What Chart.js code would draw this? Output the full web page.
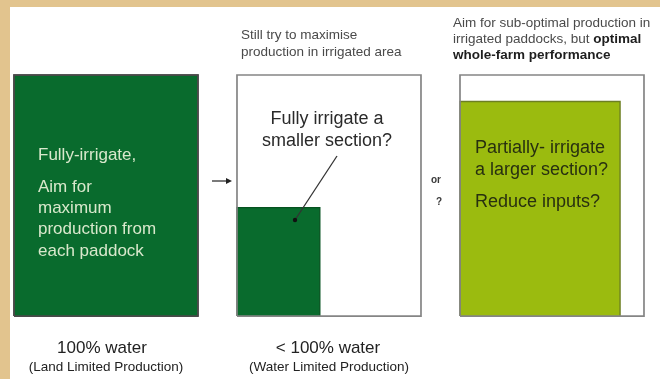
<!DOCTYPE html>
<html>
<head>
<meta charset="utf-8">
<script src="https://cdn.jsdelivr.net/npm/chart.js@4/dist/chart.umd.min.js"></script>
<style>
  html, body { margin: 0; padding: 0; background: #fff; }
  canvas { display: block; }
</style>
</head>
<body>
<canvas id="farmChart" width="660" height="379"></canvas>
<script>
// scenarios, left to right
const scenarios = ['100% water', '< 100% water', 'or ?'];
const scenarioNotes = ['(Land Limited Production)', '(Water Limited Production)', ''];
// share of the farm that is irrigated (% of area)
const irrigatedArea = [100, 45, 87];
// production per irrigated paddock (% of maximum)
const paddockProduction = [100, 45, 89];
// whole farm, for the outline
const farmArea = [100, 100, 100];
const farmProduction = [100, 100, 100];

const fillColors = ['#096b2d', '#096b2d', '#9bbb0f'];
const edgeColors = ['#4a4a4a', '#06521f', '#6d7f22'];

// layout: where each panel starts on the x scale (panel width = 100 units)
const panelStart = [0, 121.2, 242.4];

document.addEventListener("DOMContentLoaded", function(){

    function rectPoints(left, w, h, closed) {
        const pts = [
            {x: left, y: 0},
            {x: left, y: h},
            {x: left + w, y: h},
            {x: left + w, y: 0}
        ];
        if (closed) pts.push({x: left, y: 0});
        return pts;
    }

    const datasets = [];
    scenarios.forEach((name, i) => {
        datasets.push({
            label: name + ' farm',
            data: rectPoints(panelStart[i], farmArea[i], farmProduction[i], true),
            showLine: true,
            fill: false,
            borderColor: i === 0 ? '#4a4a4a' : '#858585',
            borderWidth: 1.7,
            pointRadius: 0,
            order: 0
        });
        datasets.push({
            label: name + ' irrigated',
            data: rectPoints(panelStart[i], irrigatedArea[i], paddockProduction[i], false),
            showLine: true,
            fill: 'origin',
            backgroundColor: fillColors[i],
            borderColor: edgeColors[i],
            borderWidth: 1.4,
            pointRadius: 0,
            order: 1
        });
    });

    const textPlugin = {
        id: 'diagramText',
        beforeDraw(chart) {
            const ctx = chart.ctx;
            ctx.save();
            ctx.fillStyle = '#e2c48e';
            ctx.fillRect(0, 0, chart.width, chart.height);
            ctx.fillStyle = '#ffffff';
            ctx.fillRect(10, 7, chart.width - 10, chart.height - 7);
            ctx.restore();
        },
        afterDraw(chart) {
            const ctx = chart.ctx;
            const font = (size, bold) => (bold ? 'bold ' : '') + size + 'px "Liberation Sans", Arial, sans-serif';
            ctx.save();
            ctx.textBaseline = 'middle';

            // panel 1 text
            ctx.fillStyle = '#d9e8cc';
            ctx.font = font(17);
            ctx.textAlign = 'left';
            ctx.fillText('Fully-irrigate,', 38, 155);
            ['Aim for', 'maximum', 'production from', 'each paddock'].forEach((t, k) => ctx.fillText(t, 38, 187 + k * 21.3));

            // panel 2 text
            ctx.fillStyle = '#2a2a2a';
            ctx.font = font(18);
            ctx.textAlign = 'center';
            ctx.fillText('Fully irrigate a', 327, 119);
            ctx.fillText('smaller section?', 327, 141);

            // panel 3 text
            ctx.textAlign = 'left';
            ctx.fillStyle = '#283010';
            ctx.fillText('Partially- irrigate', 475, 148);
            ctx.fillText('a larger section?', 475, 170);
            ctx.fillText('Reduce inputs?', 475, 202);

            // top notes
            ctx.fillStyle = '#4a4a4a';
            ctx.font = font(13.5);
            ctx.fillText('Still try to maximise', 241, 35);
            ctx.fillText('production in irrigated area', 241, 52);
            ctx.fillText('Aim for sub-optimal production in', 453, 23);
            const part = 'irrigated paddocks, but ';
            ctx.fillText(part, 453, 39);
            const pw = ctx.measureText(part).width;
            ctx.fillStyle = '#1e1e1e';
            ctx.font = font(13.5, true);
            ctx.fillText('optimal', 453 + pw, 39);
            ctx.fillText('whole-farm performance', 453, 55);

            // "or ?"
            ctx.font = font(10, true);
            ctx.fillStyle = '#3a3a3a';
            ctx.textAlign = 'center';
            ctx.fillText('or', 436, 180);
            ctx.fillText('?', 439, 202);

            // bottom labels
            const xs = chart.scales.x;
            ctx.fillStyle = '#222222';
            scenarios.forEach((name, i) => {
                if (!scenarioNotes[i]) return;
                const cx = xs.getPixelForValue(panelStart[i] + 50);
                ctx.font = font(17);
                ctx.fillText(name, cx - (i === 0 ? 4 : 1), 348);
                ctx.font = font(13.5);
                ctx.fillText(scenarioNotes[i], cx, 367);
            });

            // arrow between panel 1 and 2
            ctx.strokeStyle = '#222222';
            ctx.fillStyle = '#222222';
            ctx.lineWidth = 1.2;
            ctx.beginPath();
            ctx.moveTo(212, 181);
            ctx.lineTo(227, 181);
            ctx.stroke();
            ctx.beginPath();
            ctx.moveTo(232, 181);
            ctx.lineTo(226, 178);
            ctx.lineTo(226, 184);
            ctx.closePath();
            ctx.fill();

            // pointer to the small irrigated section
            ctx.strokeStyle = '#333333';
            ctx.lineWidth = 1.3;
            ctx.beginPath();
            ctx.moveTo(337, 156);
            ctx.lineTo(295, 220);
            ctx.stroke();
            ctx.fillStyle = '#111111';
            ctx.beginPath();
            ctx.arc(295, 220, 2.2, 0, Math.PI * 2);
            ctx.fill();

            ctx.restore();
        }
    };

    new Chart(document.getElementById('farmChart').getContext('2d'), {
        type: 'scatter',
        data: { datasets: datasets },
        options: {
            responsive: false,
            animation: false,
            layout: { padding: 0 },
            scales: {
                x: { type: 'linear', min: -7.6, max: 351.1, display: false },
                y: { type: 'linear', min: -26.1, max: 131.1, display: false }
            },
            elements: { line: { tension: 0 } },
            plugins: {
                legend: { display: false },
                tooltip: { enabled: false }
            }
        },
        plugins: [textPlugin]
    });
});
</script>
</body>
</html>
